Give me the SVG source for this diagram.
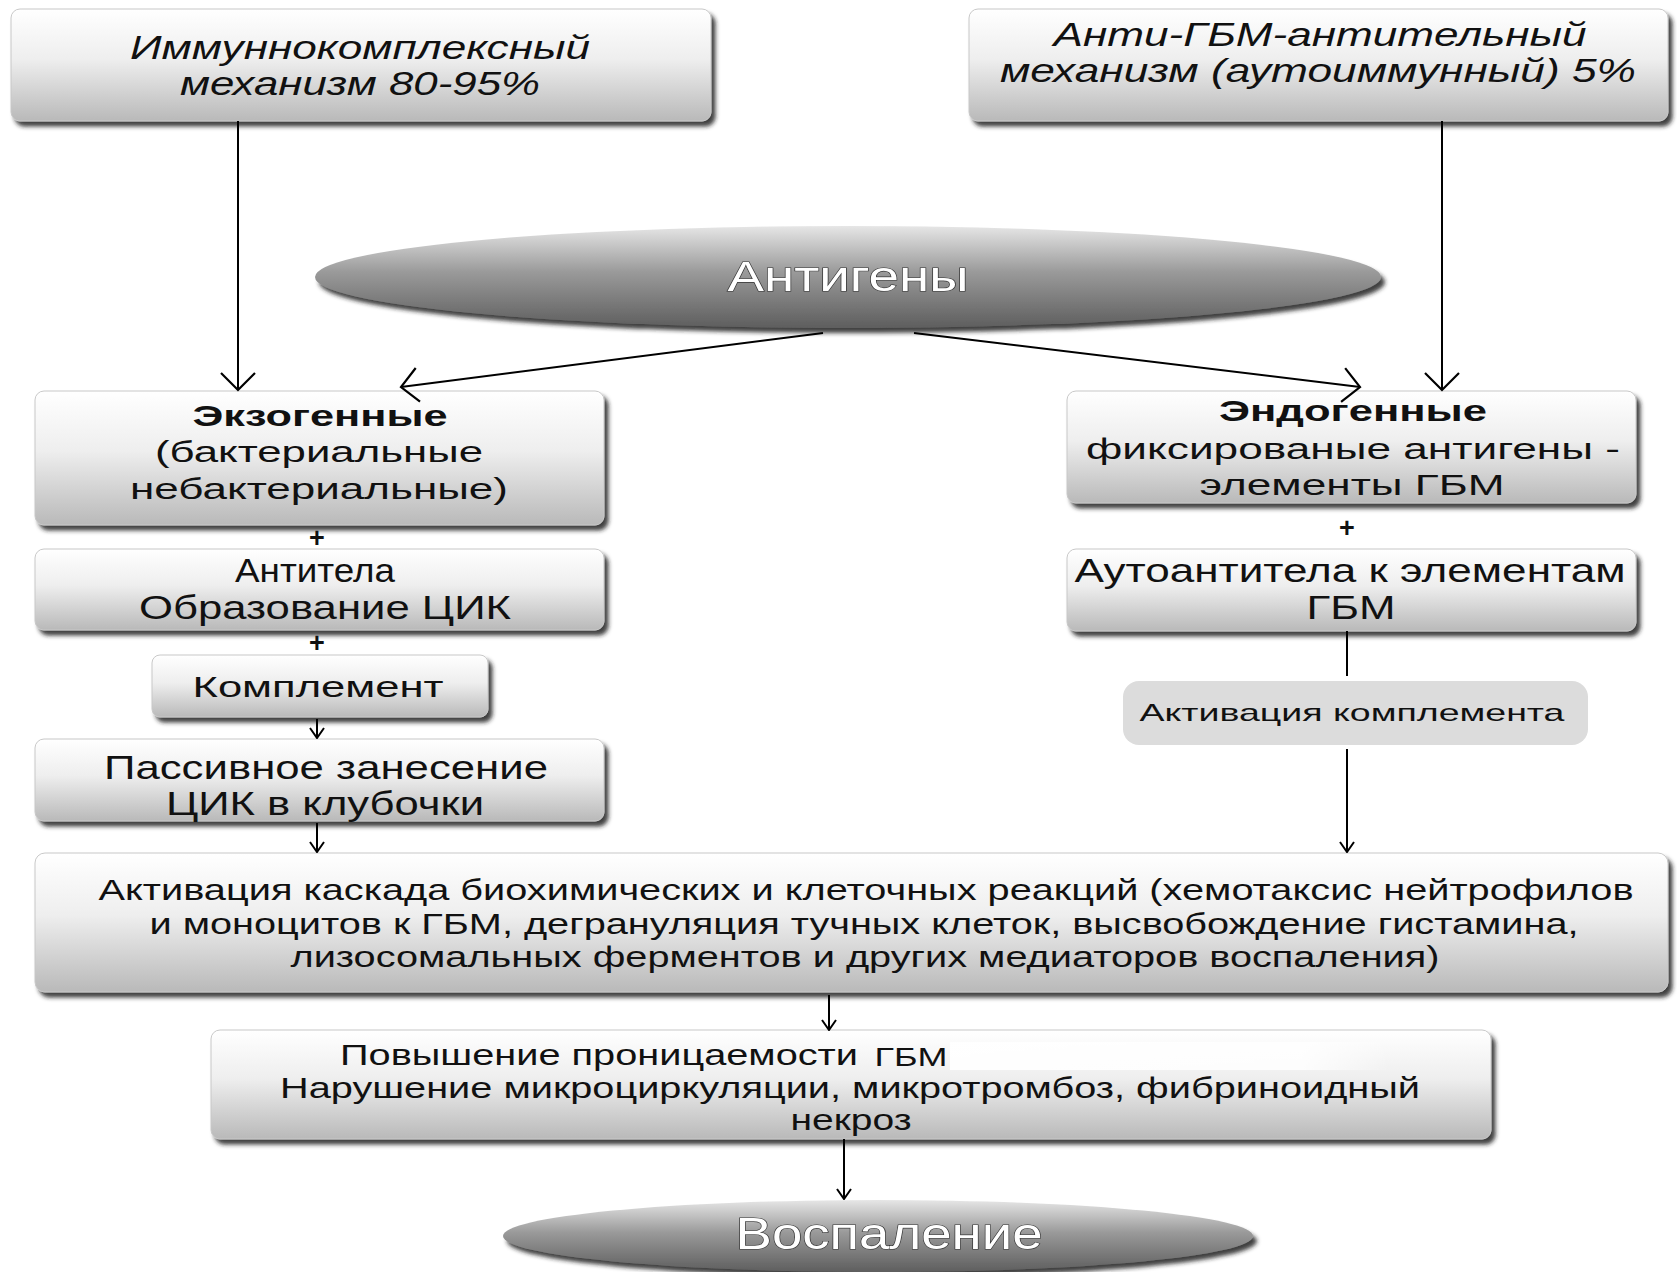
<svg xmlns="http://www.w3.org/2000/svg" width="1677" height="1272" viewBox="0 0 1677 1272">
<defs>
<linearGradient id="boxg" x1="0" y1="0" x2="0" y2="1">
<stop offset="0" stop-color="#ffffff"/>
<stop offset="0.45" stop-color="#eeeeee"/>
<stop offset="1" stop-color="#b9b9b9"/>
</linearGradient>
<linearGradient id="ellg" x1="0" y1="0" x2="0" y2="1">
<stop offset="0" stop-color="#e6e6e6"/>
<stop offset="0.45" stop-color="#9a9a9a"/>
<stop offset="1" stop-color="#5e5e5e"/>
</linearGradient>
<linearGradient id="patch" x1="0" y1="0" x2="1" y2="0">
<stop offset="0" stop-color="#fff" stop-opacity="0.95"/>
<stop offset="0.8" stop-color="#fff" stop-opacity="0.85"/>
<stop offset="1" stop-color="#fff" stop-opacity="0"/>
</linearGradient>
<filter id="sh" x="-5%" y="-10%" width="112%" height="130%">
<feDropShadow dx="4" dy="5" stdDeviation="2" flood-color="#222" flood-opacity="0.85"/>
</filter>
<marker id="big" markerUnits="userSpaceOnUse" markerWidth="20" markerHeight="38" refX="18" refY="19" orient="auto" viewBox="0 0 20 38">
<path d="M1,2 L18,19 L1,36" fill="none" stroke="#000" stroke-width="2.2"/>
</marker>
<marker id="small" markerUnits="userSpaceOnUse" markerWidth="12" markerHeight="18" refX="11" refY="9" orient="auto" viewBox="0 0 12 18">
<path d="M1,2 L11,9 L1,16" fill="none" stroke="#000" stroke-width="2"/>
</marker>
</defs>
<style>
.box{fill:url(#boxg);stroke:#c8c8c8;stroke-width:1;filter:url(#sh)}
.ell{fill:url(#ellg);filter:url(#sh)}
.t{font-family:"Liberation Sans",Arial,sans-serif;fill:#111;text-anchor:middle}
.it{font-style:italic;font-size:33px}
.m{font-size:30px}
.l{font-size:33px}
.b{font-weight:bold}
.p{font-family:"Liberation Sans",Arial,sans-serif;font-weight:bold;font-size:27px;fill:#111;text-anchor:middle}
.et{font-family:"Liberation Sans",Arial,sans-serif;fill:#fff;stroke:#333;stroke-width:1.2;text-anchor:middle;paint-order:stroke}
.c line{stroke:#000;stroke-width:2}
</style>
<rect width="1677" height="1272" fill="#fff"/>

<g id="n-immune">
<rect class="box" x="11" y="9" width="700" height="112" rx="9"/>
<text class="t it" x="360" y="59" textLength="460" lengthAdjust="spacingAndGlyphs">Иммуннокомплексный</text>
<text class="t it" x="360" y="95" textLength="360" lengthAdjust="spacingAndGlyphs">механизм 80-95%</text>
</g>

<g id="n-antigbm">
<rect class="box" x="969" y="9" width="699" height="112" rx="9"/>
<text class="t it" x="1320" y="46" textLength="533" lengthAdjust="spacingAndGlyphs">Анти-ГБМ-антительный</text>
<text class="t it" x="1318" y="82" textLength="636" lengthAdjust="spacingAndGlyphs">механизм (аутоиммунный) 5%</text>
</g>

<g id="n-antigens">
<ellipse class="ell" cx="848" cy="277" rx="533" ry="51"/>
<text class="et" x="848" y="291" font-size="43" textLength="241" lengthAdjust="spacingAndGlyphs">Антигены</text>
</g>

<g id="n-exo">
<rect class="box" x="35" y="391" width="569" height="134" rx="9"/>
<text class="t m b" x="320" y="426" textLength="255" lengthAdjust="spacingAndGlyphs">Экзогенные</text>
<text class="t m" x="319" y="462" textLength="328" lengthAdjust="spacingAndGlyphs">(бактериальные</text>
<text class="t m" x="319" y="499" textLength="378" lengthAdjust="spacingAndGlyphs">небактериальные)</text>
</g>
<text class="p" x="317" y="547">+</text>

<g id="n-antibody">
<rect class="box" x="35" y="549" width="569" height="81" rx="9"/>
<text class="t l" x="315" y="582" textLength="160" lengthAdjust="spacingAndGlyphs">Антитела</text>
<text class="t l" x="325" y="619" textLength="372" lengthAdjust="spacingAndGlyphs">Образование ЦИК</text>
</g>
<text class="p" x="317" y="652">+</text>

<g id="n-complement">
<rect class="box" x="152" y="655" width="336" height="62" rx="8"/>
<text class="t m" x="318" y="697" textLength="251" lengthAdjust="spacingAndGlyphs">Комплемент</text>
</g>

<g id="n-passive">
<rect class="box" x="35" y="739" width="569" height="82" rx="9"/>
<text class="t l" x="326" y="779" textLength="444" lengthAdjust="spacingAndGlyphs">Пассивное занесение</text>
<text class="t l" x="325" y="815" textLength="318" lengthAdjust="spacingAndGlyphs">ЦИК в клубочки</text>
</g>

<g id="n-endo">
<rect class="box" x="1067" y="391" width="569" height="112" rx="9"/>
<text class="t m b" x="1353" y="421" textLength="268" lengthAdjust="spacingAndGlyphs">Эндогенные</text>
<text class="t m" x="1353" y="459" textLength="534" lengthAdjust="spacingAndGlyphs">фиксированые антигены -</text>
<text class="t m" x="1352" y="495" textLength="305" lengthAdjust="spacingAndGlyphs">элементы ГБМ</text>
</g>
<text class="p" x="1347" y="537">+</text>

<g id="n-autoab">
<rect class="box" x="1067" y="549" width="569" height="82" rx="9"/>
<text class="t l" x="1350" y="582" textLength="551" lengthAdjust="spacingAndGlyphs">Аутоантитела к элементам</text>
<text class="t l" x="1351" y="619" textLength="89" lengthAdjust="spacingAndGlyphs">ГБМ</text>
</g>

<g id="n-actcompl">
<rect x="1123" y="681" width="465" height="64" rx="16" fill="#dcdcdc"/>
<text class="t" x="1352" y="721" font-size="24" textLength="425" lengthAdjust="spacingAndGlyphs">Активация комплемента</text>
</g>

<g id="n-cascade">
<rect class="box" x="35" y="853" width="1633" height="139" rx="10"/>
<text class="t m" x="866" y="900" textLength="1535" lengthAdjust="spacingAndGlyphs">Активация каскада биохимических и клеточных реакций (хемотаксис нейтрофилов</text>
<text class="t m" x="864" y="934" textLength="1429" lengthAdjust="spacingAndGlyphs">и моноцитов к ГБМ, дегрануляция тучных клеток, высвобождение гистамина,</text>
<text class="t m" x="865" y="967" textLength="1149" lengthAdjust="spacingAndGlyphs">лизосомальных ферментов и других медиаторов воспаления)</text>
</g>

<g id="n-perm">
<rect class="box" x="211" y="1030" width="1280" height="109" rx="9"/>
<rect x="950" y="1042" width="440" height="28" fill="url(#patch)"/>
<text class="t m" x="599" y="1065" textLength="518" lengthAdjust="spacingAndGlyphs">Повышение проницаемости</text>
<text class="t" x="911" y="1066" font-size="25" textLength="73" lengthAdjust="spacingAndGlyphs">ГБМ</text>
<text class="t m" x="850" y="1098" textLength="1140" lengthAdjust="spacingAndGlyphs">Нарушение микроциркуляции, микротромбоз, фибриноидный</text>
<text class="t m" x="851" y="1130" textLength="121" lengthAdjust="spacingAndGlyphs">некроз</text>
</g>

<g id="n-inflam">
<ellipse class="ell" cx="878" cy="1236" rx="375" ry="36"/>
<text class="et" x="889" y="1249" font-size="45" textLength="307" lengthAdjust="spacingAndGlyphs">Воспаление</text>
</g>

<g id="connectors" class="c">
<line x1="238" y1="121" x2="238" y2="390" marker-end="url(#big)"/>
<line x1="1442" y1="121" x2="1442" y2="390" marker-end="url(#big)"/>
<line x1="823" y1="333" x2="401" y2="387" marker-end="url(#big)"/>
<line x1="914" y1="333" x2="1360" y2="387" marker-end="url(#big)"/>
<line x1="317" y1="719" x2="317" y2="738" marker-end="url(#small)"/>
<line x1="317" y1="823" x2="317" y2="852" marker-end="url(#small)"/>
<line x1="1347" y1="631" x2="1347" y2="676"/>
<line x1="1347" y1="749" x2="1347" y2="852" marker-end="url(#small)"/>
<line x1="829" y1="995" x2="829" y2="1030" marker-end="url(#small)"/>
<line x1="844" y1="1139" x2="844" y2="1199" marker-end="url(#small)"/>
</g>
</svg>
